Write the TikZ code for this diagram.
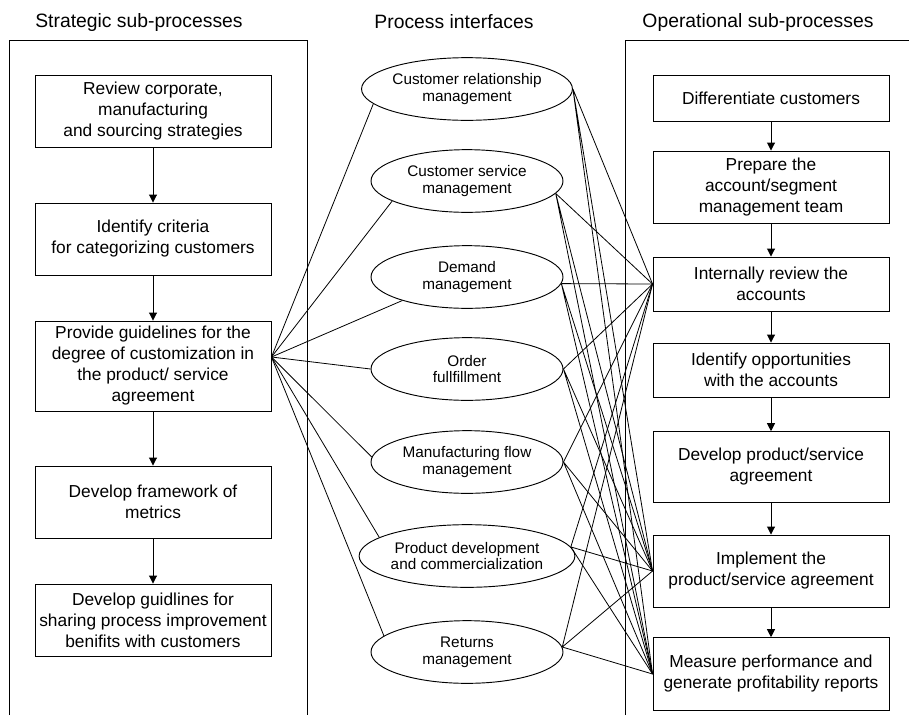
\documentclass[tikz,border=0pt]{standalone}
\usepackage{fontspec}
\setmainfont{Liberation Sans}
\usetikzlibrary{shapes.geometric, arrows.meta, positioning}

\begin{document}
\begin{tikzpicture}[
  x=0.75pt, y=-0.75pt,
  every node/.style={font=\fontsize{13}{15.75}\selectfont},
  stepbox/.style={
    rectangle, draw, line width=0.7pt,
    minimum width=177pt, inner sep=2pt, align=center
  },
  iface/.style={
    ellipse, draw, line width=0.7pt,
    minimum width=144pt, minimum height=47pt, inner sep=0pt,
    align=center, font=\fontsize{11.5}{12.5}\selectfont
  },
  coltitle/.style={font=\fontsize{14.5}{17}\selectfont},
  flow/.style={-{Triangle[length=6pt,width=6pt]}, line width=0.7pt},
  link/.style={line width=0.6pt}
]
\useasboundingbox (0,0) rectangle (909,715);

% Column frames and titles
\draw[line width=0.7pt] (9,715) |- (307,40) -- (307,715);
\draw[line width=0.7pt] (625,715) |- (909,40);
\node[coltitle] (tstrat) at (139,22) {Strategic sub-processes};
\node[coltitle] (tiface) at (454,22) {Process interfaces};
\node[coltitle] (toper) at (758,22) {Operational sub-processes};

% Strategic sub-processes
\node[stepbox, minimum height=54pt] (s1) at (153,111)
  {Review corporate,\\ manufacturing\\ and sourcing strategies};
\node[stepbox, minimum height=54pt] (s2) at (153,239)
  {Identify criteria\\ for categorizing customers};
\node[stepbox, minimum height=67.5pt] (s3) at (153,366)
  {Provide guidelines for the\\ degree of customization in\\ the product/ service\\ agreement};
\node[stepbox, minimum height=54pt] (s4) at (153,502)
  {Develop framework of\\ metrics};
\node[stepbox, minimum height=54pt] (s5) at (153,620)
  {Develop guidlines for\\ sharing process improvement\\ benifits with customers};

\draw[flow] (s1) -- (s2);
\draw[flow] (s2) -- (s3);
\draw[flow] (s3) -- (s4);
\draw[flow] (s4) -- (s5);

% Process interfaces
\node[iface] (e1) at (467,89) {Customer relationship\\ management};
\node[iface] (e2) at (467,181) {Customer service\\ management};
\node[iface] (e3) at (467,277) {Demand\\ management};
\node[iface] (e4) at (467,369) {Order\\ fullfillment};
\node[iface] (e5) at (467,462) {Manufacturing flow\\ management};
\node[iface] (e6) at (467,556) {Product development\\ and commercialization};
\node[iface] (e7) at (467,652) {Returns\\ management};

% Operational sub-processes
\node[stepbox, minimum height=34.5pt] (o1) at (771,98)
  {Differentiate customers};
\node[stepbox, minimum height=54pt] (o2) at (771,187)
  {Prepare the\\ account/segment\\ management team};
\node[stepbox, minimum height=40.5pt] (o3) at (771,284)
  {Internally review the\\ accounts};
\node[stepbox, minimum height=40.5pt] (o4) at (771,370)
  {Identify opportunities\\ with the accounts};
\node[stepbox, minimum height=53pt] (o5) at (771,467)
  {Develop product/service\\ agreement};
\node[stepbox, minimum height=54pt] (o6) at (771,571)
  {Implement the\\ product/service agreement};
\node[stepbox, minimum height=54.5pt] (o7) at (771,674)
  {Measure performance and\\ generate profitability reports};

\draw[flow] (o1) -- (o2);
\draw[flow] (o2) -- (o3);
\draw[flow] (o3) -- (o4);
\draw[flow] (o4) -- (o5);
\draw[flow] (o5) -- (o6);
\draw[flow] (o6) -- (o7);

% Strategic -> interfaces
\coordinate (hub) at ([yshift=6.75pt]s3.east);
\draw[link] (hub) -- (e1.189);
\draw[link] (hub) -- (e2.195);
\draw[link] (hub) -- (e3.200);
\draw[link] (hub) -- (e4.west);
\draw[link] (hub) -- (e5.177);
\draw[link] (hub) -- (e6.168);
\draw[link] (hub) -- (e7.169);

% Interfaces -> operational
\draw[link] (e1.east) -- (o3.west) (e1.east) -- (o6.west) (e1.east) -- (o7.west);
\draw[link] (e2.-8) -- (o3.west) (e2.-8) -- (o6.west) (e2.-8) -- (o7.west);
\draw[link] (e3.-4) -- (o3.west) (e3.-4) -- (o6.west) (e3.-4) -- (o7.west);
\draw[link] (e4.east) -- (o3.west) (e4.east) -- (o6.west) (e4.east) -- (o7.west);
\draw[link] (e5.east) -- (o3.west) (e5.east) -- (o6.west) (e5.east) -- (o7.west);
\draw[link] (e6.5) -- (o3.west) (e6.5) -- (o6.west) (e6.5) -- (o7.west);
\draw[link] (e7.3) -- (o3.west) (e7.3) -- (o6.west) (e7.3) -- (o7.west);

\end{tikzpicture}
\end{document}
